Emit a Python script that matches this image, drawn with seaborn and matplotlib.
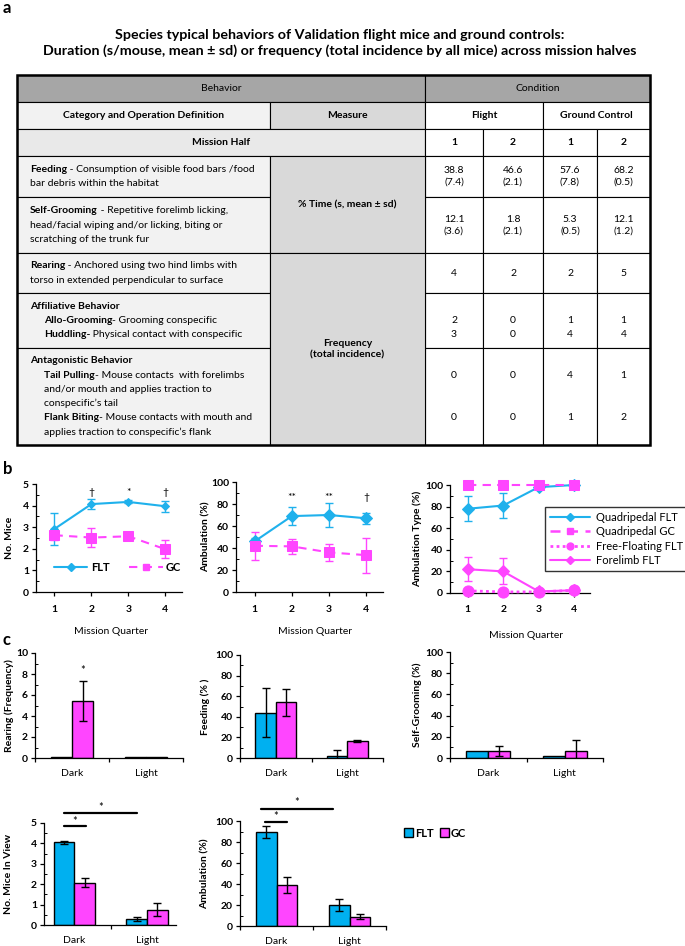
import numpy as np
import pandas as pd
import matplotlib
matplotlib.use("Agg")
import matplotlib.pyplot as plt
import seaborn as sns
from matplotlib.patches import Rectangle, Patch
from matplotlib.lines import Line2D
from matplotlib.ticker import MultipleLocator, FixedLocator

# ---------------- table values (Flight 1, Flight 2, Ground 1, Ground 2) ----------------
half_labels = ["1", "2", "1", "2"]
feeding_mean = [38.8, 46.6, 57.6, 68.2]
feeding_sd = [7.4, 2.1, 7.8, 0.5]
grooming_mean = [12.1, 1.8, 5.3, 12.1]
grooming_sd = [3.6, 2.1, 0.5, 1.2]
rearing_freq = [4, 2, 2, 5]
allo_freq = [2, 0, 1, 1]
huddling_freq = [3, 0, 4, 4]
tail_freq = [0, 0, 4, 1]
flank_freq = [0, 0, 1, 2]

# ---------------- panel b: mission quarters ----------------
quarters = [1, 2, 3, 4]
mice_flt = [2.92, 4.07, 4.17, 3.97]
mice_flt_sd = [0.76, 0.22, 0.07, 0.25]
mice_gc = [2.63, 2.52, 2.58, 1.98]
mice_gc_sd = [0.2, 0.43, 0.05, 0.42]
mice_marks = ["", "†", "*", "†"]

amb_flt = [46, 69, 70, 67]
amb_flt_sd = [3, 8, 10.5, 5]
amb_gc = [42, 41.5, 36, 33.5]
amb_gc_sd = [13, 7, 8, 16]
amb_marks = ["", "**", "**", "†"]

quad_flt = [78, 81, 98, 100]
quad_flt_sd = [11.5, 11.5, 0, 0]
quad_gc = [100, 100, 100, 100]
float_flt = [2, 1, 1, 2.5]
fore_flt = [22, 20, 1.5, 2.5]
fore_flt_sd = [11, 12, 0, 0]

# ---------------- panel c: dark vs light ----------------
phases = ["Dark", "Light"]
rear_flt, rear_flt_sd = [0.1, 0.1], [0, 0]
rear_gc, rear_gc_sd = [5.4, 0.1], [1.9, 0]
feed_flt, feed_flt_sd = [44, 2], [23.5, 6]
feed_gc, feed_gc_sd = [54, 16.5], [13, 1]
groom_flt, groom_flt_sd = [6.5, 1.5], [0, 0]
groom_gc, groom_gc_sd = [6.5, 6.5], [4.5, 10.5]
view_flt, view_flt_sd = [4.05, 0.3], [0.07, 0.1]
view_gc, view_gc_sd = [2.07, 0.75], [0.22, 0.33]
amb2_flt, amb2_flt_sd = [89.5, 20], [5.5, 5.5]
amb2_gc, amb2_gc_sd = [39, 9], [8, 2]

BLUE = "#1FB1EC"
BAR_BLUE = "#00B0F0"
PINK = "#FF45FF"

sns.set_theme(style="ticks")
plt.rcParams["font.family"] = ["Lato", "DejaVu Sans"]
plt.rcParams.update({
    "axes.edgecolor": "black", "text.color": "black", "axes.labelcolor": "black",
    "xtick.color": "black", "ytick.color": "black", "axes.linewidth": 0.9,
})

W, H = 685, 946
fig = plt.figure(figsize=(W / 100, H / 100), dpi=100)
fig.patch.set_facecolor("white")

over = fig.add_axes([0, 0, 1, 1])
over.set_xlim(0, W)
over.set_ylim(H, 0)
over.axis("off")

FS = 7.5
# panel letters and title
over.text(3, 8, "a", fontsize=12, fontweight="bold", va="center")
over.text(3, 469, "b", fontsize=12, fontweight="bold", va="center")
over.text(3, 640, "c", fontsize=12, fontweight="bold", va="center")
over.text(340, 43, "Species typical behaviors of Validation flight mice and ground controls:\n"
          "Duration (s/mouse, mean ± sd) or frequency (total incidence by all mice) across mission halves",
          ha="center", va="center", fontsize=10.3, fontweight="bold", linespacing=1.4)

# ---------------- table ----------------
X = [17, 270, 425, 483, 543, 597, 650]
Y = [75, 102, 129, 156, 197, 253, 293, 348, 445]
DARK, LIGHT, MEAS, MISSION = "#A6A6A6", "#F2F2F2", "#D9D9D9", "#E9E9E9"


def cell(x0, x1, y0, y1, color, txt=None, bold=False):
    over.add_patch(Rectangle((x0, y0), x1 - x0, y1 - y0, facecolor=color,
                             edgecolor="black", linewidth=0.8))
    if txt is not None:
        over.text((x0 + x1) / 2, (y0 + y1) / 2, txt, ha="center", va="center",
                  fontsize=FS, fontweight="bold" if bold else "normal", linespacing=1.35)


cell(X[0], X[2], Y[0], Y[1], DARK, "Behavior")
cell(X[2], X[6], Y[0], Y[1], DARK, "Condition")
cell(X[0], X[1], Y[1], Y[2], LIGHT, "Category and Operation Definition", True)
cell(X[1], X[2], Y[1], Y[2], MEAS, "Measure", True)
cell(X[2], X[4], Y[1], Y[2], "white", "Flight", True)
cell(X[4], X[6], Y[1], Y[2], "white", "Ground Control", True)
cell(X[0], X[2], Y[2], Y[3], MISSION, "Mission Half", True)
for i in range(4):
    cell(X[2 + i], X[3 + i], Y[2], Y[3], "white", half_labels[i], True)

body_rows = [
    [("Feeding", " - Consumption of visible food bars /food", 0),
     ("", "bar debris within the habitat", 0)],
    [("Self-Grooming", " - Repetitive forelimb licking,", 0),
     ("", "head/facial wiping and/or licking, biting or", 0),
     ("", "scratching of the trunk fur", 0)],
    [("Rearing", " - Anchored using two hind limbs with", 0),
     ("", "torso in extended perpendicular to surface", 0)],
    [("Affiliative Behavior", "", 0),
     ("Allo-Grooming", "- Grooming conspecific", 1),
     ("Huddling-", " Physical contact with conspecific", 1)],
    [("Antagonistic Behavior", "", 0),
     ("Tail Pulling", "- Mouse contacts  with forelimbs", 1),
     ("", "and/or mouth and applies traction to", 1),
     ("", "conspecific\u2019s tail", 1),
     ("Flank Biting", "- Mouse contacts with mouth and", 1),
     ("", "applies traction to conspecific\u2019s flank", 1)],
]
LS = 14.3
cx = [(X[2 + i] + X[3 + i]) / 2 for i in range(4)]


def line_y(r, k):
    n = len(body_rows[r])
    return (Y[3 + r] + Y[4 + r]) / 2 + (k - (n - 1) / 2) * LS


for r, lines in enumerate(body_rows):
    cell(X[0], X[1], Y[3 + r], Y[4 + r], LIGHT)
    for i in range(4):
        cell(X[2 + i], X[3 + i], Y[3 + r], Y[4 + r], "white")
    for k, (bold, rest, ind) in enumerate(lines):
        x = 30 + 14 * ind
        y = line_y(r, k)
        if bold:
            t = over.text(x, y, bold, fontweight="bold", fontsize=FS, va="center")
            if rest:
                over.annotate(rest, xy=(1, 0.5), xycoords=t, va="center", ha="left", fontsize=FS)
        else:
            over.text(x, y, rest, fontsize=FS, va="center")

cell(X[1], X[2], Y[3], Y[5], MEAS, "% Time (s, mean ± sd)", True)
cell(X[1], X[2], Y[5], Y[8], MEAS, "Frequency\n(total incidence)", True)

for i in range(4):
    for r, (m, s) in enumerate([(feeding_mean, feeding_sd), (grooming_mean, grooming_sd)]):
        over.text(cx[i], (Y[3 + r] + Y[4 + r]) / 2, f"{m[i]:.1f}\n({s[i]:.1f})",
                  ha="center", va="center", fontsize=FS, linespacing=1.35)
    over.text(cx[i], (Y[5] + Y[6]) / 2, str(rearing_freq[i]), ha="center", va="center", fontsize=FS)
    over.text(cx[i], line_y(3, 1), str(allo_freq[i]), ha="center", va="center", fontsize=FS)
    over.text(cx[i], line_y(3, 2), str(huddling_freq[i]), ha="center", va="center", fontsize=FS)
    over.text(cx[i], line_y(4, 1), str(tail_freq[i]), ha="center", va="center", fontsize=FS)
    over.text(cx[i], line_y(4, 4), str(flank_freq[i]), ha="center", va="center", fontsize=FS)

over.add_patch(Rectangle((X[0], Y[0]), X[6] - X[0], Y[8] - Y[0], fill=False,
                         edgecolor="black", linewidth=1.8))


# ---------------- helpers for the charts ----------------
def px_axes(l, t, r, b):
    ax = fig.add_axes([l / W, 1 - b / H, (r - l) / W, (b - t) / H])
    ax.set_facecolor("none")
    ax.l_px, ax.r_px, ax.b_px, ax.t_px = l, r, b, t
    return ax


def style_y(ax, ytop, step, label, label_px):
    ax.set_ylim(0, ytop)
    ax.yaxis.set_major_locator(FixedLocator(np.arange(0, ytop + step / 2, step)))
    ax.yaxis.set_minor_locator(MultipleLocator(step / 2))
    ax.tick_params(axis="y", which="major", direction="out", length=3, width=0.9,
                   labelsize=FS, pad=2)
    ax.tick_params(axis="y", which="minor", direction="in", length=2.5, width=0.7)
    for lab in ax.get_yticklabels():
        lab.set_fontweight("bold")
    sns.despine(ax=ax)
    ax.set_ylabel(label, fontsize=FS, fontweight="bold")
    ax.yaxis.label.set_va("center")
    ax.yaxis.set_label_coords((label_px - ax.l_px) / (ax.r_px - ax.l_px), 0.5)


def draw_series(ax, vals, sd, color, marker, ms, ls, lw=1.5):
    sns.lineplot(x=quarters, y=vals, ax=ax, color=color, marker=marker, markersize=ms,
                 markeredgecolor=color, linestyle=ls, linewidth=lw, clip_on=False, zorder=3)
    if sd is not None:
        ax.errorbar(quarters, vals, yerr=sd, fmt="none", ecolor=color, elinewidth=1,
                    capsize=3, capthick=1, zorder=2, clip_on=False)


def style_quarter(ax, xlabel_px, xlabel_py):
    ax.set_xlim(0.5, 4.45)
    ax.set_xticks(quarters)
    ax.tick_params(axis="x", direction="out", length=3, width=0.9, labelsize=FS, pad=6)
    for lab in ax.get_xticklabels():
        lab.set_fontweight("bold")
    ax.set_xlabel("Mission Quarter", fontsize=FS)
    ax.xaxis.label.set_va("center")
    ax.xaxis.set_label_coords((xlabel_px - ax.l_px) / (ax.r_px - ax.l_px),
                              -(xlabel_py - ax.b_px) / (ax.b_px - ax.t_px))


DASH = (0, (4, 3))
DOT = (0, (1, 1.2))

# ---------------- panel b ----------------
b1 = px_axes(36, 484, 182, 592)
draw_series(b1, mice_flt, mice_flt_sd, BLUE, "D", 4, "-")
draw_series(b1, mice_gc, mice_gc_sd, PINK, "s", 6.5, DASH)
for q, m in zip(quarters, mice_marks):
    b1.text(q, 4.6, m, ha="center", va="center", fontsize=7.5)
style_y(b1, 5, 1, "No. Mice", 9)
style_quarter(b1, 111, 632)
b1.legend([Line2D([], [], color=BLUE, marker="D", ms=4, lw=1.5),
           Line2D([], [], color=PINK, marker="s", ms=5, lw=1.5, ls=DASH)],
          ["FLT", "GC"], ncol=2, frameon=False, loc="center", bbox_to_anchor=(0.56, 0.23),
          prop={"weight": "bold", "size": 8}, handlelength=3.0, columnspacing=1.8,
          handletextpad=0.3)

b2 = px_axes(236, 482, 383, 592)
draw_series(b2, amb_flt, amb_flt_sd, BLUE, "D", 6.5, "-")
draw_series(b2, amb_gc, amb_gc_sd, PINK, "s", 6.5, DASH)
for q, m in zip(quarters, amb_marks):
    b2.text(q, 86, m, ha="center", va="center", fontsize=7.5)
style_y(b2, 100, 20, "Ambulation (%)", 206)
style_quarter(b2, 315, 632)

b3 = px_axes(450, 485, 590, 593)
draw_series(b3, quad_flt, quad_flt_sd, BLUE, "D", 6.5, "-")
draw_series(b3, quad_gc, None, PINK, "s", 7, DASH)
draw_series(b3, float_flt, None, PINK, "o", 8, DOT, lw=2)
draw_series(b3, fore_flt, fore_flt_sd, PINK, "D", 6.5, "-")
style_y(b3, 100, 20, "Ambulation Type (%)", 417)
style_quarter(b3, 526, 636)
leg = fig.legend([Line2D([], [], color=BLUE, marker="D", ms=4, lw=1.5),
                  Line2D([], [], color=PINK, marker="s", ms=5, lw=1.8, ls=DASH),
                  Line2D([], [], color=PINK, marker="o", ms=5, lw=2, ls=DOT),
                  Line2D([], [], color=PINK, marker="D", ms=4, lw=1.5)],
                 ["Quadripedal FLT", "Quadripedal GC", "Free-Floating FLT", "Forelimb FLT"],
                 loc="upper left", bbox_to_anchor=(545 / W, 1 - 507 / H), borderaxespad=0,
                 frameon=True, fancybox=False, edgecolor="black", fontsize=8,
                 handlelength=3.6, borderpad=0.45, labelspacing=0.3, handletextpad=0.5)
leg.get_frame().set_linewidth(1)


# ---------------- panel c ----------------
def bar_panel(ax, flt, flt_sd, gc, gc_sd, ytop, step, label, label_px, xlim=(-0.5, 1.5)):
    df = pd.DataFrame({"phase": phases * 2, "value": flt + gc,
                       "group": ["FLT"] * 2 + ["GC"] * 2})
    sns.barplot(data=df, x="phase", y="value", hue="group", ax=ax,
                palette={"FLT": BAR_BLUE, "GC": PINK}, width=0.572, saturation=1,
                edgecolor="black", linewidth=1, errorbar=None, legend=False)
    for cont, sd in zip(ax.containers, [flt_sd, gc_sd]):
        xs = [p.get_x() + p.get_width() / 2 for p in cont]
        ys = [p.get_height() for p in cont]
        keep = [i for i in range(len(sd)) if sd[i] > 0]
        if keep:
            ax.errorbar([xs[i] for i in keep], [ys[i] for i in keep],
                        yerr=[sd[i] for i in keep], fmt="none", ecolor="black",
                        elinewidth=1, capsize=3, capthick=1, zorder=4)
    ax.set_xlim(*xlim)
    ax.set_xlabel("")
    ax.tick_params(axis="x", which="major", length=0, labelsize=FS, pad=8)
    ax.xaxis.set_minor_locator(FixedLocator([-0.5, 0.5, 1.5]))
    ax.tick_params(axis="x", which="minor", direction="out", length=3, width=0.9)
    style_y(ax, ytop, step, label, label_px)


c1 = px_axes(35, 653, 183, 758)
bar_panel(c1, rear_flt, rear_flt_sd, rear_gc, rear_gc_sd, 10, 2, "Rearing (Frequency)", 9)
c1.text(0.143, 8.3, "*", ha="center", va="center", fontsize=8)

c2 = px_axes(240, 655, 383, 758)
bar_panel(c2, feed_flt, feed_flt_sd, feed_gc, feed_gc_sd, 100, 20, "Feeding (% )", 205)

c3 = px_axes(450, 652, 603, 758)
bar_panel(c3, groom_flt, groom_flt_sd, groom_gc, groom_gc_sd, 100, 20, "Self-Grooming (%)", 417)

# significance brackets: (x start, x end, line height, star height)
view_sig = [(-0.143, 0.16, 4.84, 5.05), (-0.143, 0.86, 5.49, 5.75)]
amb2_sig = [(-0.16, 0.14, 98.7, 104), (-0.21, 0.77, 111.5, 117.5)]

c4 = px_axes(44, 823, 176, 925)
bar_panel(c4, view_flt, view_flt_sd, view_gc, view_gc_sd, 5, 1, "No. Mice In View", 9,
          xlim=(-0.42, 1.4))
c5 = px_axes(240, 821, 386, 926)
bar_panel(c5, amb2_flt, amb2_flt_sd, amb2_gc, amb2_gc_sd, 100, 20, "Ambulation (%)", 205)

for ax, sig in [(c4, view_sig), (c5, amb2_sig)]:
    for x0, x1, yl, ys in sig:
        ax.plot([x0, x1], [yl, yl], color="black", lw=1.6, clip_on=False)
        ax.text((x0 + x1) / 2, ys, "*", ha="center", va="center", fontsize=8, clip_on=False)

fig.legend([Patch(facecolor=BAR_BLUE, edgecolor="black"), Patch(facecolor=PINK, edgecolor="black")],
           ["FLT", "GC"], loc="center left", bbox_to_anchor=(400 / W, 1 - 833 / H), ncol=2,
           frameon=False, handlelength=0.8, handleheight=0.8, handletextpad=0.2,
           columnspacing=0.5, prop={"weight": "bold", "size": 8}, borderaxespad=0)

fig.savefig("out.png", dpi=100)
